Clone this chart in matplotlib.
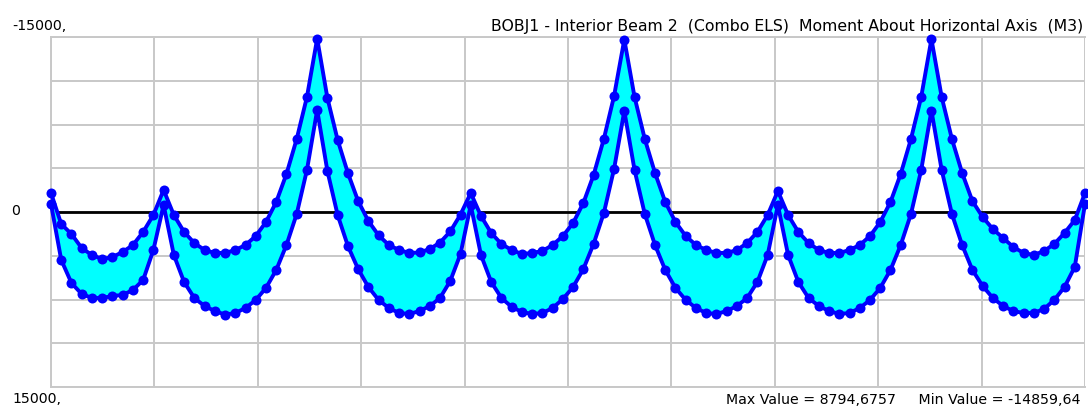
import numpy as np
import matplotlib
matplotlib.use("Agg")
import matplotlib.pyplot as plt

# Support stations along the beam (m) and the spans between them
support_x = [0, 11, 26, 41, 56, 71, 86, 101]

# Envelope moments (kN*m) at 1 m stations in each span, both ends included
min_span1 = [-1630, 1030, 1890, 3090, 3690, 4030, 3860, 3430, 2830, 1710, 260, -1890]
max_span1 = [-690, 4110, 6090, 7030, 7370, 7370, 7200, 7110, 6690, 5830, 3260, -600]

min_span2 = [-1890, 260, 1710, 2660, 3260, 3510, 3510, 3260, 2830, 2060, 860, -860, -3260, -6260, -9860, -14859.64]
max_span2 = [-600, 3690, 6000, 7370, 8060, 8490, 8794.6757, 8660, 8230, 7540, 6510, 4970, 2830, 170, -3600, -8740]

min_span3 = [-14859.64, -9770, -6170, -3340, -940, 770, 2000, 2830, 3260, 3510, 3470, 3170, 2620, 1670, 220, -1630]
max_span3 = [-8740, -3510, 260, 2910, 4890, 6430, 7540, 8230, 8660, 8740, 8490, 8060, 7370, 5910, 3600, -600]

min_span4 = [-1630, 340, 1800, 2740, 3260, 3600, 3510, 3340, 2830, 2060, 940, -770, -3170, -6260, -9940, -14780]
max_span4 = [-600, 3690, 6000, 7370, 8140, 8570, 8740, 8660, 8230, 7460, 6430, 4890, 2740, 90, -3690, -8660]

min_span5 = [-14780, -9860, -6260, -3340, -860, 860, 2060, 2830, 3260, 3510, 3510, 3260, 2660, 1710, 260, -1800]
max_span5 = [-8660, -3600, 170, 2830, 4970, 6510, 7540, 8230, 8660, 8740, 8490, 8060, 7370, 6000, 3690, -600]

min_span6 = [-1800, 260, 1710, 2660, 3260, 3510, 3510, 3260, 2830, 2060, 860, -860, -3260, -6260, -9860, -14820]
max_span6 = [-600, 3690, 6000, 7370, 8060, 8490, 8740, 8660, 8230, 7540, 6510, 4970, 2830, 170, -3600, -8700]

min_span7 = [-14820, -9860, -6260, -3340, -940, 430, 1460, 2230, 3000, 3510, 3690, 3340, 2740, 1800, 690, -1630]
max_span7 = [-8700, -3600, 170, 2830, 4970, 6340, 7370, 8060, 8490, 8660, 8660, 8310, 7540, 6430, 4710, -690]

title_text = "BOBJ1 - Interior Beam 2  (Combo ELS)  Moment About Horizontal Axis  (M3)"
summary_text = "Max Value = 8794,6757     Min Value = -14859,64"
y_top_label = "-15000,"
y_mid_label = "0"
y_bot_label = "15000,"

min_spans = [min_span1, min_span2, min_span3, min_span4, min_span5, min_span6, min_span7]
max_spans = [max_span1, max_span2, max_span3, max_span4, max_span5, max_span6, max_span7]

# Assemble continuous station / envelope arrays (support points shared by neighbouring spans)
xs, mins, maxs = [], [], []
for i, (mn, mx) in enumerate(zip(min_spans, max_spans)):
    x0, x1 = support_x[i], support_x[i + 1]
    st = np.linspace(x0, x1, len(mn))
    start = 0 if i == 0 else 1
    xs.extend(st[start:])
    mins.extend(mn[start:])
    maxs.extend(mx[start:])
xs = np.array(xs)
mins = np.array(mins)
maxs = np.array(maxs)

W, H = 1088, 409
fig = plt.figure(figsize=(W / 100, H / 100), dpi=100)
fig.patch.set_facecolor("white")

left, right, top, bottom = 51, 1085, 37, 387
ax = fig.add_axes([left / W, 1 - bottom / H, (right - left) / W, (bottom - top) / H])
ax.set_xlim(support_x[0], support_x[-1])
ax.set_ylim(15000, -15000)

grid_col = "#c8c8c8"
ax.set_xticks(np.linspace(support_x[0], support_x[-1], 11))
ax.set_yticks(np.linspace(-15000, 15000, 9))
ax.grid(True, color=grid_col, linewidth=1.4)
ax.tick_params(length=0, labelleft=False, labelbottom=False)
for side in ["left", "top", "bottom"]:
    ax.spines[side].set_color(grid_col)
    ax.spines[side].set_linewidth(1.4)
ax.spines["right"].set_visible(False)
ax.set_axisbelow(True)

# Zero moment axis
ax.plot([support_x[0], support_x[-1]], [0, 0], color="black", linewidth=2.0, zorder=2)

# Envelope band and its two bounding curves
ax.fill_between(xs, mins, maxs, color="#00ffff", linewidth=0, zorder=3)
for series in (maxs, mins):
    ax.plot(xs, series, color="#0000ff", linewidth=2.8, marker="o", markersize=7.2,
            markeredgewidth=0, zorder=4, clip_on=False)

font = dict(family=["DejaVu Sans"], color="black")
fig.text(12 / W, 1 - 26 / H, y_top_label, ha="left", va="center", fontsize=10.2, **font)
fig.text(11 / W, 1 - 211 / H, y_mid_label, ha="left", va="center", fontsize=10.2, **font)
fig.text(12 / W, 1 - 399 / H, y_bot_label, ha="left", va="center", fontsize=10.2, **font)
fig.text(1083 / W, 1 - 26 / H, title_text, ha="right", va="center", fontsize=11.3, **font)
fig.text(1081 / W, 1 - 400 / H, summary_text, ha="right", va="center", fontsize=10.2, **font)

fig.savefig("out.png", dpi=100, facecolor="white")
